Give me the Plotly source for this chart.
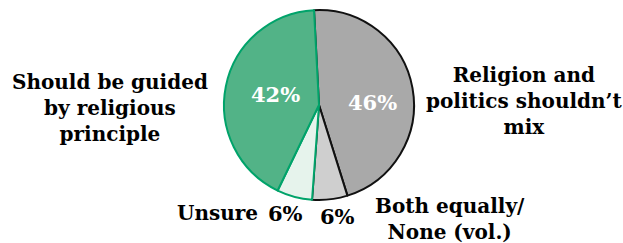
import plotly.graph_objects as go

categories = ["Religion and<br>politics shouldn’t<br>mix", "Both equally/<br>None (vol.)", "Unsure", "Should be guided<br>by religious<br>principle"]
values = [46, 6, 6, 42]
slice_colors = ["#a9a9a9", "#cfcfcf", "#e6f3ec", "#52b387"]
line_colors = ["#111111", "#111111", "#00a36a", "#00a36a"]

W, H = 623, 243
def px(x): return x / W
def py(y): return 1 - y / H

fig = go.Figure(go.Pie(
    labels=categories, values=values, sort=False, direction="clockwise", rotation=-3,
    marker=dict(colors=slice_colors, line=dict(color=line_colors, width=2)),
    textinfo="none", hoverinfo="label+percent", showlegend=False,
    domain=dict(x=[px(224), px(414)], y=[py(200), py(10)]),
))

font_face = "DejaVu Serif"
cat_pos = [(524, 101), (450, 219), (217, 213), (110, 108)]
pct_pos = [(372, 102, "white"), (337, 216, "black"), (285, 213, "black"), (275, 94, "white")]
ann = []
for cat, v, (cx, cy), (tx, ty, tc) in zip(categories, values, cat_pos, pct_pos):
    ann.append(dict(x=px(cx), y=py(cy), xref="paper", yref="paper", text=f"<b>{cat}</b>",
                    showarrow=False, xanchor="center", yanchor="middle",
                    font=dict(family=font_face, size=20, color="black")))
    ann.append(dict(x=px(tx), y=py(ty), xref="paper", yref="paper", text=f"<b>{v}%</b>",
                    showarrow=False, xanchor="center", yanchor="middle",
                    font=dict(family=font_face, size=21, color=tc)))

fig.update_layout(width=W, height=H, margin=dict(l=0, r=0, t=0, b=0),
                  paper_bgcolor="white", plot_bgcolor="white", annotations=ann)
fig.write_html("out.html", config={"displayModeBar": False},
               post_script="document.body.style.margin='0';document.body.style.overflow='hidden';")
